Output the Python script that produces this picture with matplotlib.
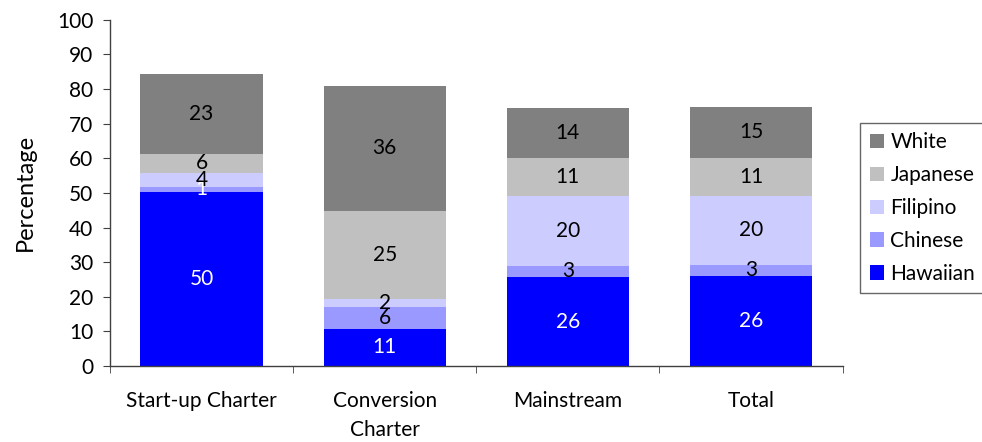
import matplotlib
matplotlib.use("Agg")
import matplotlib.pyplot as plt
import numpy as np

categories = ["Start-up Charter", "Conversion\nCharter", "Mainstream", "Total"]
series = ["Hawaiian", "Chinese", "Filipino", "Japanese", "White"]
hawaiian = [50.3, 10.7, 25.7, 26.0]
chinese = [1.4, 6.4, 3.2, 3.2]
filipino = [4.1, 2.3, 20.2, 19.9]
japanese = [5.5, 25.4, 11.0, 11.0]
white = [23.1, 36.1, 14.4, 14.8]

values = [hawaiian, chinese, filipino, japanese, white]
colors = ["#0000FF", "#9999FF", "#CCCCFF", "#C0C0C0", "#808080"]
label_colors = [["white"] * 4,
                ["white", "black", "black", "black"],
                ["black"] * 4,
                ["black"] * 4,
                ["black"] * 4]

plt.rcParams["font.family"] = ["Lato", "DejaVu Sans"]

fig = plt.figure(figsize=(9.82, 4.42), dpi=100)
ax = fig.add_axes([0.112, 0.172, 0.746, 0.783])

x = np.arange(len(categories))
bottom = np.zeros(len(categories))
handles = []
for i, (name, vals) in enumerate(zip(series, values)):
    vals = np.array(vals)
    b = ax.bar(x, vals, width=0.667, bottom=bottom, color=colors[i], label=name,
               linewidth=0)
    handles.append(b)
    for j in range(len(categories)):
        ax.text(x[j], bottom[j] + vals[j] / 2, f"{int(round(vals[j]))}",
                ha="center", va="center", fontsize=15, color=label_colors[i][j])
    bottom += vals

ax.set_xlim(-0.5, len(categories) - 0.5)
ax.set_ylim(0, 100)
ax.set_yticks(np.arange(0, 101, 10))
ax.set_xticks(x)
ax.set_xticklabels(categories, fontsize=15, linespacing=1.55)
ax.set_xticks(np.arange(-0.5, len(categories), 1), minor=True)
ax.tick_params(axis="x", which="major", length=0, pad=18)
ax.tick_params(axis="x", which="minor", length=5, direction="out", color="#404040")
ax.tick_params(axis="y", labelsize=15, length=5, direction="out", color="#404040", pad=7)
for s in ["top", "right"]:
    ax.spines[s].set_visible(False)
for s in ["left", "bottom"]:
    ax.spines[s].set_color("#404040")
    ax.spines[s].set_linewidth(1)
ax.set_ylabel("Percentage", fontsize=17, labelpad=15)

leg = fig.legend(handles[::-1], series[::-1], loc="upper left",
                 bbox_to_anchor=(0.876, 0.722), frameon=True, fancybox=False,
                 edgecolor="#404040", fontsize=15, handlelength=0.7, handleheight=0.7,
                 handletextpad=0.3, labelspacing=0.62, borderpad=0.45,
                 borderaxespad=0)
leg.get_frame().set_linewidth(1)

fig.savefig("out.png", dpi=100)
